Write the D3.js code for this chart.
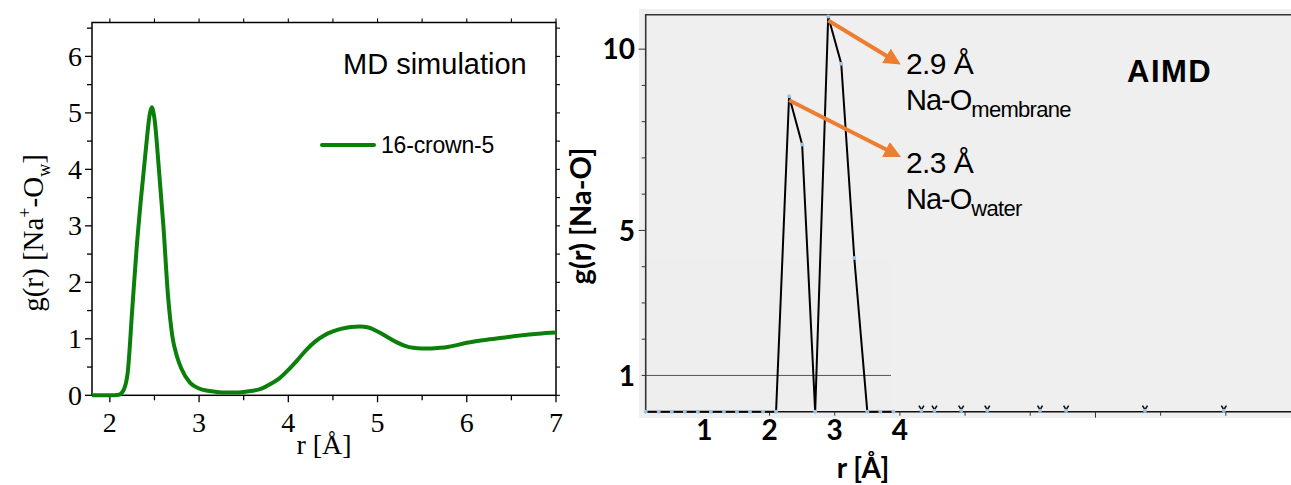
<!DOCTYPE html>
<html>
<head>
<meta charset="utf-8">
<script src="https://cdn.jsdelivr.net/npm/d3@7"></script>
<style>
  body { margin: 0; background: #fff; }
  svg { display: block; }
</style>
</head>
<body>
<div id="chart"></div>
<script>
// left panel: MD simulation, g(r) Na+-Ow
var mdR = [1.8, 1.9, 2.0, 2.1, 2.15, 2.2, 2.25, 2.3, 2.35, 2.4, 2.45, 2.47, 2.5, 2.55, 2.6, 2.65, 2.7, 2.75, 2.8, 2.9,
           3.0, 3.1, 3.2, 3.3, 3.4, 3.5, 3.6, 3.7, 3.8, 3.9, 4.0, 4.1, 4.2, 4.3, 4.4, 4.5, 4.6, 4.7, 4.8, 4.9,
           5.0, 5.1, 5.2, 5.3, 5.4, 5.5, 5.6, 5.7, 5.8, 6.0, 6.2, 6.4, 6.6, 6.8, 7.0];
var mdG = [0, 0, 0, 0.01, 0.08, 0.4, 1.5, 2.6, 3.5, 4.3, 5.0, 5.1, 4.9, 4.0, 3.0, 1.8, 1.05, 0.7, 0.48, 0.22,
           0.12, 0.08, 0.06, 0.05, 0.05, 0.06, 0.08, 0.12, 0.2, 0.3, 0.45, 0.62, 0.8, 0.95, 1.06, 1.13, 1.18, 1.21, 1.22, 1.2,
           1.13, 1.04, 0.95, 0.88, 0.84, 0.83, 0.83, 0.84, 0.86, 0.93, 0.98, 1.02, 1.06, 1.09, 1.11];
var mdXTicks = [2, 3, 4, 5, 6, 7];
var mdYTicks = [0, 1, 2, 3, 4, 5, 6];

// right panel: AIMD, g(r) Na-O
var aimdR = [0.1, 0.3, 0.5, 0.7, 0.9, 1.1, 1.3, 1.5, 1.7, 1.9, 2.1, 2.3, 2.5, 2.7, 2.9, 3.1, 3.3, 3.5, 3.7, 3.9];
var aimdG = [0, 0, 0, 0, 0, 0, 0, 0, 0, 0, 0, 8.7, 7.37, 0, 10.9, 9.6, 4.24, 0, 0, 0];
var aimdTailR = [4.33, 4.53, 4.94, 5.34, 6.15, 6.55, 7.76, 8.97];
var aimdXLabels = [1, 2, 3, 4];
var aimdXTicks = [2, 3, 4, 5, 6, 7, 8, 9];
var aimdYLabels = [1, 5, 10];
var aimdYTicks = [1, 2, 3, 4, 5, 6, 7, 8, 9, 10];

var W = 1291, H = 485;
var svg = d3.select("#chart").append("svg")
    .attr("width", W)
    .attr("height", H);

// ---------------- left panel ----------------
var xL = d3.scaleLinear().domain([1.8, 7]).range([92, 556]);
var yL = d3.scaleLinear().domain([0, 6.6]).range([395.3, 22.5]);
var serif = "'Liberation Serif', 'Times New Roman', serif";

var left = svg.append("g");

// frame
left.append("rect")
    .attr("x", xL.range()[0]).attr("y", yL.range()[1])
    .attr("width", xL.range()[1] - xL.range()[0])
    .attr("height", yL.range()[0] - yL.range()[1])
    .attr("fill", "none").attr("stroke", "#000").attr("stroke-width", 1.5);

var xMinorL = d3.range(2, 7.01, 0.5);
var yMinorL = d3.range(0, 6.51, 0.5);

// bottom ticks
left.selectAll(".xtb").data(xMinorL).enter().append("line")
    .attr("x1", d => xL(d)).attr("x2", d => xL(d))
    .attr("y1", yL(0)).attr("y2", d => yL(0) + (d % 1 === 0 ? 7 : 5))
    .attr("stroke", "#000").attr("stroke-width", 1.3);
// top ticks
left.selectAll(".xtt").data(xMinorL).enter().append("line")
    .attr("x1", d => xL(d)).attr("x2", d => xL(d))
    .attr("y1", yL.range()[1]).attr("y2", yL.range()[1] - 4)
    .attr("stroke", "#000").attr("stroke-width", 1.1);
// left ticks
left.selectAll(".ytl").data(yMinorL).enter().append("line")
    .attr("x1", xL.range()[0]).attr("x2", d => xL.range()[0] - (d % 1 === 0 ? 7 : 5))
    .attr("y1", d => yL(d)).attr("y2", d => yL(d))
    .attr("stroke", "#000").attr("stroke-width", 1.3);
// right ticks
left.selectAll(".ytr").data(yMinorL).enter().append("line")
    .attr("x1", xL.range()[1]).attr("x2", xL.range()[1] + 4)
    .attr("y1", d => yL(d)).attr("y2", d => yL(d))
    .attr("stroke", "#000").attr("stroke-width", 1.1);

left.selectAll(".xl").data(mdXTicks).enter().append("text")
    .attr("x", d => xL(d)).attr("y", 432)
    .attr("text-anchor", "middle")
    .style("font-family", serif).style("font-size", "28px")
    .text(d => d);
left.selectAll(".yl").data(mdYTicks).enter().append("text")
    .attr("x", 82).attr("y", d => yL(d)).attr("dy", "0.34em")
    .attr("text-anchor", "end")
    .style("font-family", serif).style("font-size", "28px")
    .text(d => d);

left.append("text")
    .attr("x", (xL.range()[0] + xL.range()[1]) / 2).attr("y", 454)
    .attr("text-anchor", "middle")
    .style("font-family", serif).style("font-size", "28px")
    .text("r [Å]");

var yTitleL = left.append("text")
    .attr("transform", "translate(43,233) rotate(-90)")
    .attr("text-anchor", "middle")
    .style("font-family", serif).style("font-size", "29px");
yTitleL.append("tspan").text("g(r) [Na");
yTitleL.append("tspan").attr("dy", -12).style("font-size", "18px").text("+");
yTitleL.append("tspan").attr("dy", 12).text("-O");
yTitleL.append("tspan").attr("dy", 7).style("font-size", "18px").text("w");
yTitleL.append("tspan").attr("dy", -7).text("]");

var mdData = mdR.map((r, i) => ({r: r, g: mdG[i]}));
left.append("path")
    .datum(mdData)
    .attr("fill", "none")
    .attr("stroke", "#0a800a")
    .attr("stroke-width", 4)
    .attr("stroke-linejoin", "round")
    .attr("d", d3.line().x(d => xL(d.r)).y(d => yL(d.g)).curve(d3.curveMonotoneX));

left.append("text")
    .attr("x", 343).attr("y", 74)
    .style("font-family", "'Liberation Sans', Arial, sans-serif").style("font-size", "29px")
    .style("letter-spacing", "0px")
    .text("MD simulation");
left.append("line")
    .attr("x1", 322).attr("x2", 374).attr("y1", 145).attr("y2", 145)
    .attr("stroke", "#0a800a").attr("stroke-width", 4).attr("stroke-linecap", "round");
left.append("text")
    .attr("x", 381).attr("y", 153)
    .style("font-family", "'Liberation Sans', Arial, sans-serif").style("font-size", "23px")
    .style("letter-spacing", "-0.2px")
    .text("16-crown-5");

// ---------------- right panel ----------------
var xR = d3.scaleLinear().domain([0.1, 10]).range([645.7, 1291]);
var yR = d3.scaleLinear().domain([0, 10.95]).range([411.7, 14.7]);
var bold = "Lato, 'Open Sans', sans-serif";
var sans = "'Liberation Sans', Arial, sans-serif";

var right = svg.append("g");

right.append("rect")
    .attr("x", 639).attr("y", 9).attr("width", W - 639).attr("height", 418 - 9)
    .attr("fill", "#efefef");
right.append("rect")
    .attr("x", 645.7).attr("y", 260).attr("width", 891 - 645.7).attr("height", 411.7 - 260)
    .attr("fill", "#eeeeee");

// reference line g = 1
right.append("line")
    .attr("x1", 645.7).attr("x2", 891)
    .attr("y1", yR(1)).attr("y2", yR(1))
    .attr("stroke", "#555").attr("stroke-width", 1);

// axes lines
right.append("path")
    .attr("d", "M" + 645.7 + "," + yR(0) + "V" + yR.range()[1] + "H" + W)
    .attr("fill", "none").attr("stroke", "#333").attr("stroke-width", 1.6);
right.append("line")
    .attr("x1", 645.7).attr("x2", W).attr("y1", yR(0)).attr("y2", yR(0))
    .attr("stroke", "#111").attr("stroke-width", 1.4);

right.selectAll(".ryt").data(aimdYTicks).enter().append("line")
    .attr("x1", 645.7).attr("x2", d => 645.7 - (d % 5 === 0 ? 7 : 4))
    .attr("y1", d => yR(d)).attr("y2", d => yR(d))
    .attr("stroke", "#333").attr("stroke-width", 1);
right.selectAll(".rxt").data(aimdXTicks).enter().append("line")
    .attr("x1", d => xR(d)).attr("x2", d => xR(d))
    .attr("y1", yR(0)).attr("y2", d => yR(0) + (d === 7 ? 6 : 4))
    .attr("stroke", "#333").attr("stroke-width", 1);

right.selectAll(".ryl").data(aimdYLabels).enter().append("text")
    .attr("x", 635).attr("y", d => yR(d)).attr("dy", "0.36em")
    .attr("text-anchor", "end")
    .style("font-family", bold).style("font-weight", "bold").style("font-size", "28px")
    .text(d => d);
right.selectAll(".rxl").data(aimdXLabels).enter().append("text")
    .attr("x", d => xR(d)).attr("y", 440)
    .attr("text-anchor", "middle")
    .style("font-family", bold).style("font-weight", "bold").style("font-size", "28px")
    .text(d => d);

right.append("text")
    .attr("x", 863).attr("y", 478)
    .attr("text-anchor", "middle")
    .style("font-family", bold).style("font-weight", "bold").style("font-size", "28px")
    .text("r [Å]");
right.append("text")
    .attr("transform", "translate(591,216) rotate(-90)")
    .attr("text-anchor", "middle")
    .style("font-family", bold).style("font-weight", "bold").style("font-size", "29px")
    .text("g(r) [Na-O]");

// data line + markers
var aimdData = aimdR.map((r, i) => ({r: r, g: aimdG[i]}));
right.append("path")
    .datum(aimdData)
    .attr("fill", "none").attr("stroke", "#000").attr("stroke-width", 2)
    .attr("d", d3.line().x(d => xR(d.r)).y(d => yR(d.g)));
right.selectAll(".pt").data(aimdData).enter().append("circle")
    .attr("cx", d => xR(d.r)).attr("cy", d => yR(d.g)).attr("r", 2)
    .attr("fill", "#9dc3e6");

// scattered markers along the baseline
var tail = right.selectAll(".tail").data(aimdTailR).enter().append("g")
    .attr("transform", d => "translate(" + xR(d) + "," + (yR(0) - 2) + ")");
tail.append("path")
    .attr("d", "M-2.5,-4L0,0L2.5,-4")
    .attr("fill", "none").attr("stroke", "#111").attr("stroke-width", 1.6);
tail.append("circle").attr("r", 2).attr("cy", 1).attr("fill", "#9dc3e6");

// orange arrows
var defs = svg.append("defs");
defs.append("marker")
    .attr("id", "ah").attr("viewBox", "0 0 10 10")
    .attr("refX", 6).attr("refY", 5)
    .attr("markerWidth", 4.2).attr("markerHeight", 4.2)
    .attr("orient", "auto")
  .append("path").attr("d", "M0,0L10,5L0,10z").attr("fill", "#ed7d31");

var arrows = [
  {from: [2.9, 10.9], to: [901, 64]},
  {from: [2.3, 8.7], to: [901, 157]}
];
right.selectAll(".arr").data(arrows).enter().append("line")
    .attr("x1", d => xR(d.from[0])).attr("y1", d => yR(d.from[1]) + 4)
    .attr("x2", d => d.to[0] - 6).attr("y2", d => d.to[1] - 3)
    .attr("stroke", "#ed7d31").attr("stroke-width", 4)
    .attr("marker-end", "url(#ah)");

// annotations
function peakLabel(y, dist, sub) {
  right.append("text")
      .attr("x", 906).attr("y", y)
      .style("font-family", sans).style("font-size", "30px").style("letter-spacing", "-0.6px")
      .text(dist);
  var t = right.append("text")
      .attr("x", 906).attr("y", y + 36)
      .style("font-family", sans).style("font-size", "29px").style("letter-spacing", "-1px");
  t.append("tspan").text("Na-O");
  t.append("tspan").attr("dy", 7).style("font-size", "22px").style("letter-spacing", "-0.7px").text(sub);
}
peakLabel(74, "2.9 Å", "membrane");
peakLabel(173, "2.3 Å", "water");

right.append("text")
    .attr("x", 1127).attr("y", 82)
    .style("font-family", sans).style("font-weight", "bold").style("font-size", "31px")
    .style("letter-spacing", "1.5px")
    .text("AIMD");
</script>
</body>
</html>
